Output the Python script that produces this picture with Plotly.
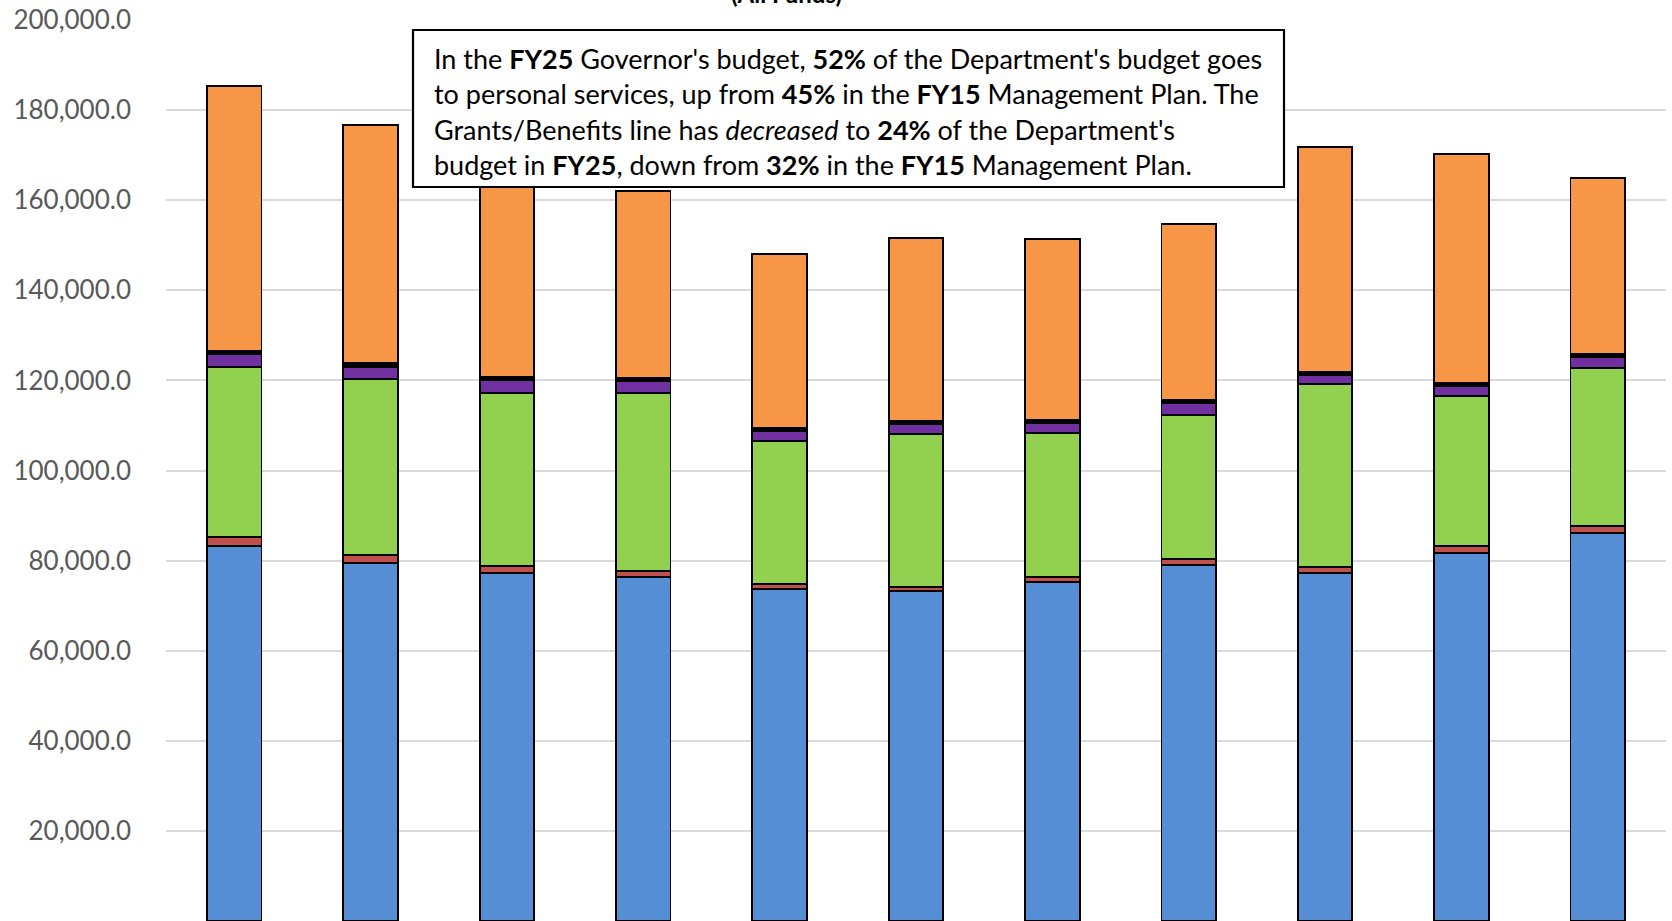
import plotly.graph_objects as go

# Fiscal years shown on the category axis
years = ["FY15", "FY16", "FY17", "FY18", "FY19", "FY20", "FY21", "FY22", "FY23", "FY24", "FY25"]

# Department budget by category (All Funds), stacked bottom to top
personal_services = [83317, 79543, 77323, 76435, 73704, 73327, 75325, 78965, 77189, 81763, 86069]
fringe_other = [2000, 1710, 1490, 1330, 1040, 890, 975, 1332, 1466, 1554, 1621]
operating = [37740, 39005, 38470, 39516, 31813, 33832, 31968, 32035, 40492, 33233, 35143]
transfers = [2750, 2800, 2820, 2660, 2287, 2287, 2220, 2597, 2065, 2287, 2442]
capital = [730, 750, 730, 530, 530, 666, 733, 733, 600, 532, 600]
grants_benefits = [58740, 52950, 47165, 41580, 38630, 40559, 40182, 39139, 50017, 50972, 39072]

y_ticks = [20000 * i for i in range(1, 11)]

series = [
    ("Personal Services", personal_services, "#558ED5"),
    ("Fringe/Other", fringe_other, "#C0504D"),
    ("Operating Expenses", operating, "#92D050"),
    ("Transfers", transfers, "#7030A0"),
    ("Capital", capital, "#000000"),
    ("Grants/Benefits", grants_benefits, "#F79646"),
]

fig = go.Figure()
for name, vals, color in series:
    fig.add_trace(go.Bar(
        x=years, y=vals, name=name,
        marker=dict(color=color, line=dict(color="#000000", width=1.8)),
    ))

W, H = 1672, 921
ML, MR, MT, MB = 166, 6, 20, 0
pw, ph = W - ML - MR, H - MT - MB


def px_x(x):
    return (x - ML) / pw


def px_y(y):
    return (H - MB - y) / ph


fig.update_layout(
    template="none",
    width=W, height=H,
    margin=dict(l=ML, r=MR, t=MT, b=MB, pad=0),
    barmode="stack",
    bargap=0.6,
    showlegend=False,
    plot_bgcolor="white",
    paper_bgcolor="white",
    font=dict(family="Lato, Carlito, sans-serif", color="#595959"),
    xaxis=dict(
        showgrid=False, zeroline=False, showline=False,
        showticklabels=False, automargin=False,
    ),
    yaxis=dict(
        range=[0, 200000],
        tickvals=y_ticks,
        tickformat=",.1f",
        tickfont=dict(size=26, color="#595959"),
        showgrid=True, gridcolor="#D9D9D9", gridwidth=1.5,
        zeroline=False, showline=False,
        ticks="", ticklabelstandoff=34,
        automargin=False,
    ),
)

# Summary callout box
fig.add_shape(
    type="rect", xref="paper", yref="paper",
    x0=px_x(413), x1=px_x(1284), y0=px_y(187), y1=px_y(30),
    fillcolor="white", line=dict(color="#000000", width=2.2), layer="above",
)

callout_lines = [
    "In the <b>FY25</b> Governor's budget, <b>52%</b> of the Department's budget goes",
    "to personal services, up from <b>45%</b> in the <b>FY15</b> Management Plan. The",
    "Grants/Benefits line has <i>decreased</i> to <b>24%</b> of the Department's",
    "budget in <b>FY25</b>, down from <b>32%</b> in the <b>FY15</b> Management Plan.",
]
line_centers = [58.6, 94.0, 129.5, 165.0]
for text, yc in zip(callout_lines, line_centers):
    fig.add_annotation(
        text=text, xref="paper", yref="paper",
        x=px_x(432), y=px_y(yc), xanchor="left", yanchor="middle",
        showarrow=False, align="left",
        font=dict(family="Lato, Carlito, sans-serif", size=27, color="#000000"),
    )

# Chart title (second line sits just above the plot area)
fig.add_annotation(
    text="<b>(All Funds)</b>", xref="paper", yref="paper",
    x=px_x(786), y=px_y(10), xanchor="center", yanchor="bottom",
    showarrow=False,
    font=dict(family="Lato, Carlito, sans-serif", size=24, color="#000000"),
)

fig.write_html("out.html")
